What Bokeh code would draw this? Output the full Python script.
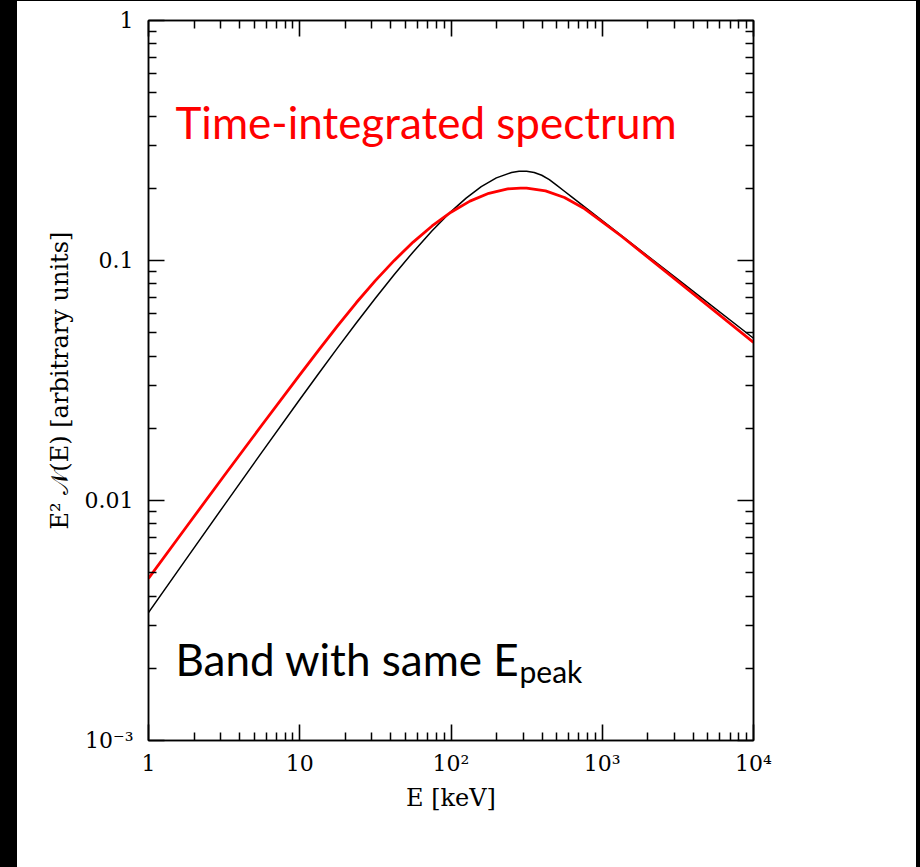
from bokeh.plotting import figure
from bokeh.models import LogAxis, FixedTicker, Label, Div, Range1d, ColumnDataSource
from bokeh.layouts import row, column
from bokeh.embed import file_html
from bokeh.resources import INLINE

# ---- data ----
energy_band = [1, 1.778, 3.162, 5.623, 10, 13.34, 17.78, 23.71, 31.62, 42.17, 56.23,
               74.99, 100, 125.9, 158.5, 199.5, 251.2, 281.8, 316.2, 354.8, 398.1,
               446.7, 501.2, 562.3, 631.0, 1000, 3162, 10000]
flux_band = [0.00341, 0.005711, 0.009548, 0.01591, 0.02636, 0.03382, 0.04323, 0.05503,
             0.06965, 0.08742, 0.1086, 0.1330, 0.1599, 0.1820, 0.2030, 0.2209, 0.2326,
             0.2354, 0.2355, 0.2327, 0.2266, 0.2173, 0.2056, 0.1943, 0.1837, 0.1466,
             0.08337, 0.04742]

energy_int = [1, 1.778, 3.162, 5.623, 10, 13.34, 17.78, 23.71, 31.62, 42.17, 56.23,
              74.99, 100, 133.4, 177.8, 237.1, 288.4, 316.2, 421.7, 562.3, 749.9,
              1000, 1334, 3162, 10000]
flux_int = [0.004732, 0.007757, 0.01268, 0.02063, 0.03338, 0.04231, 0.05341, 0.06681,
            0.08241, 0.1001, 0.1193, 0.1393, 0.1590, 0.1767, 0.1905, 0.1987, 0.2004,
            0.2002, 0.1950, 0.1830, 0.1655, 0.1450, 0.1265, 0.08190, 0.04560]

x_tick_values = [1, 10, 100, 1000, 10000]
x_tick_labels = ["1", "10", "10²", "10³", "10⁴"]
y_tick_values = [0.001, 0.01, 0.1, 1]
y_tick_labels = ["10⁻³", "0.01", "0.1", "1"]

x_label = "E [keV]"
y_label = "E² 𝒩(E) [arbitrary units]"
label_red = "Time-integrated spectrum"
label_black = "Band with same E"
label_black_sub = "peak"

x_minor = [m * d for d in [1, 10, 100, 1000] for m in range(2, 10)]
y_minor = [round(m * d, 6) for d in [0.001, 0.01, 0.1] for m in range(2, 10)]

SERIF = "DejaVu Serif"
SANS = "Lato"

p = figure(width=899, height=866, x_axis_type="log", y_axis_type="log",
           x_range=Range1d(1, 1e4), y_range=Range1d(1e-3, 1),
           output_backend="svg", toolbar_location=None,
           min_border_left=131, min_border_right=163,
           min_border_top=19, min_border_bottom=127,
           background_fill_color="white", border_fill_color="white",
           outline_line_color="black", outline_line_width=1.5)
p.grid.visible = False


def style_axis(ax, ticks, minor, labels, show):
    ax.ticker = FixedTicker(ticks=ticks, minor_ticks=minor)
    ax.major_tick_in = 16
    ax.major_tick_out = 0
    ax.minor_tick_in = 8
    ax.minor_tick_out = 0
    ax.axis_line_width = 1.5
    ax.axis_line_color = "black"
    ax.major_tick_line_width = 1.6
    ax.minor_tick_line_width = 1.5
    ax.major_tick_line_color = "black"
    ax.minor_tick_line_color = "black"
    if show:
        ax.major_label_overrides = dict(zip(ticks, labels))
        ax.major_label_text_font = SERIF
        ax.major_label_text_font_size = "22px"
        ax.major_label_text_color = "black"
        ax.axis_label_text_font = SERIF
        ax.axis_label_text_font_size = "24px"
        ax.axis_label_text_font_style = "normal"
        ax.axis_label_text_color = "black"
    else:
        ax.major_label_overrides = {t: "" for t in ticks}
        ax.major_label_text_font_size = "0px"
        ax.major_label_standoff = 0


xa = p.xaxis[0]
ya = p.yaxis[0]
style_axis(xa, x_tick_values, x_minor, x_tick_labels, True)
style_axis(ya, y_tick_values, y_minor, y_tick_labels, True)
xa.axis_label = x_label
ya.axis_label = y_label
xa.major_label_standoff = 10
xa.axis_label_standoff = 5
ya.major_label_standoff = 15
ya.axis_label_standoff = 8

top = LogAxis()
right = LogAxis()
style_axis(top, x_tick_values, x_minor, x_tick_labels, False)
style_axis(right, y_tick_values, y_minor, y_tick_labels, False)
p.add_layout(top, "above")
p.add_layout(right, "right")

src_band = ColumnDataSource(dict(x=energy_band, y=flux_band))
src_int = ColumnDataSource(dict(x=energy_int, y=flux_int))
p.line("x", "y", source=src_band, line_color="black", line_width=1.5,
       line_join="round")
p.line("x", "y", source=src_int, line_color="red", line_width=2.8,
       line_join="round")

p.add_layout(Label(x=1.508, y=0.3759, text=label_red, text_color="red",
                   text_font=SANS, text_font_size="44px",
                   text_baseline="alphabetic", text_align="left"))
p.add_layout(Label(x=1.508, y=0.002176, text=label_black, text_color="black",
                   text_font=SANS, text_font_size="44px",
                   text_baseline="alphabetic", text_align="left"))
p.add_layout(Label(x=283.8, y=0.001939, text=label_black_sub, text_color="black",
                   text_font=SANS, text_font_size="30px",
                   text_baseline="alphabetic", text_align="left"))

bar_top = Div(width=920, height=1, margin=(0, 0, 0, 0),
              styles={"background-color": "black"})
bar_left = Div(width=17, height=866, margin=(0, 0, 0, 0),
               styles={"background-color": "black"})
bar_right = Div(width=4, height=866, margin=(0, 0, 0, 0),
                styles={"background-color": "black"})

layout = column(bar_top, row(bar_left, p, bar_right, spacing=0), spacing=0)

open("out.html", "w").write(file_html(layout, INLINE))
